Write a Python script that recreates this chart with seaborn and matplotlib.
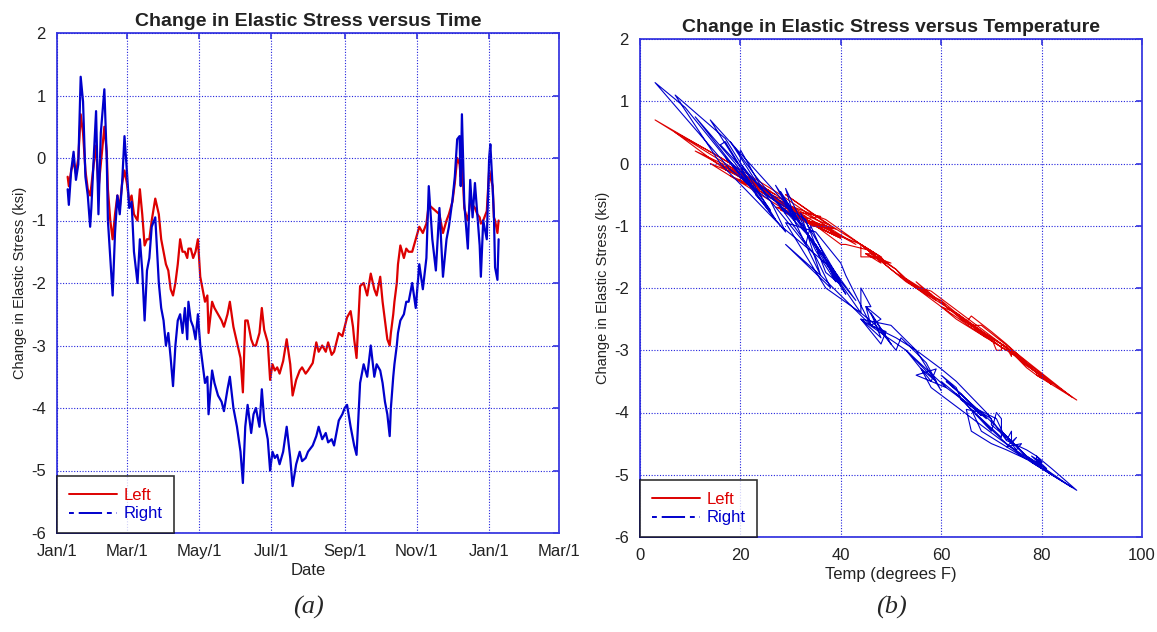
import numpy as np
import pandas as pd
import matplotlib
matplotlib.use("Agg")
import matplotlib.pyplot as plt
from matplotlib.lines import Line2D
import seaborn as sns

# ---- data ----
day_of_year = [9, 10, 12, 14, 16, 18, 20, 22, 24, 26, 28, 29, 31, 33, 35, 37, 40, 42, 43, 45,
               47, 49, 51, 53, 55, 57, 59, 61, 63, 65, 68, 70, 72, 74, 76, 78, 80, 83, 86, 88,
               90, 92, 94, 96, 98, 100, 102, 104, 106, 108, 110, 111, 113, 115, 117, 119, 121, 123, 125, 127,
               128, 131, 133, 136, 139, 141, 144, 146, 149, 152, 155, 157, 159, 161, 164, 166, 168, 171, 173, 175,
               178, 180, 182, 184, 186, 188, 191, 194, 197, 199, 202, 205, 207, 210, 212, 216, 219, 221, 224, 227,
               229, 232, 234, 236, 238, 241, 243, 245, 248, 250, 251, 253, 256, 259, 262, 265, 268, 270, 273, 275,
               277, 279, 281, 282, 284, 285, 287, 288, 290, 293, 295, 297, 300, 303, 306, 309, 312, 314, 317, 320,
               323, 326, 329, 331, 334, 336, 338, 340, 341, 342, 344, 346, 347, 349, 351, 353, 355, 357, 358, 360,
               363, 365, 366, 368, 369, 370, 372, 373]

left_stress = [-0.30, -0.45, -0.20, -0.05, -0.25, 0.00, 0.70, 0.40, -0.20, -0.50, -0.60, -0.45, -0.10, 0.20, -0.50, -0.10, 0.50, 0.10, -0.50, -1.00,
               -1.30, -0.90, -0.60, -0.80, -0.40, -0.20, -0.40, -0.70, -0.60, -0.90, -1.00, -0.50, -0.90, -1.40, -1.30, -1.30, -1.00, -0.65, -0.90, -1.30,
               -1.50, -1.70, -1.80, -2.10, -2.20, -2.00, -1.70, -1.30, -1.50, -1.50, -1.60, -1.45, -1.45, -1.60, -1.50, -1.30, -1.90, -2.10, -2.30, -2.20,
               -2.80, -2.30, -2.40, -2.50, -2.60, -2.70, -2.50, -2.30, -2.70, -2.95, -3.20, -3.75, -2.60, -2.60, -2.90, -3.00, -3.00, -2.80, -2.40, -2.75,
               -2.95, -3.55, -3.30, -3.40, -3.35, -3.45, -3.25, -2.90, -3.30, -3.80, -3.55, -3.40, -3.35, -3.45, -3.40, -3.28, -2.95, -3.10, -3.00, -3.10,
               -2.95, -3.15, -3.10, -2.95, -2.80, -2.85, -2.70, -2.55, -2.45, -2.70, -2.90, -3.20, -2.05, -2.00, -2.20, -1.85, -2.10, -2.20, -1.90, -2.30,
               -2.60, -2.90, -3.00, -2.80, -2.50, -2.30, -2.00, -1.70, -1.40, -1.60, -1.45, -1.50, -1.50, -1.30, -1.10, -1.20, -1.05, -0.75, -0.80, -0.85,
               -0.90, -1.20, -1.00, -0.90, -0.70, -0.40, 0.00, -0.10, -0.30, 0.00, -0.80, -0.95, -1.00, -0.70, -0.75, -0.80, -0.90, -0.95, -1.05, -1.00,
               -0.85, -0.20, -0.30, -0.45, -0.95, -1.00, -1.20, -1.00]

right_stress = [-0.50, -0.75, -0.20, 0.10, -0.35, -0.10, 1.30, 0.90, -0.30, -0.60, -1.10, -0.80, 0.00, 0.75, -0.90, 0.40, 1.10, 0.00, -1.00, -1.60,
                -2.20, -1.20, -0.60, -0.90, -0.40, 0.35, -0.20, -0.80, -0.70, -1.50, -2.00, -1.30, -1.80, -2.60, -1.80, -1.60, -1.10, -0.95, -2.00, -2.40,
                -2.60, -3.00, -2.80, -3.20, -3.65, -3.00, -2.60, -2.50, -2.80, -2.40, -2.90, -2.30, -2.60, -2.70, -2.90, -2.50, -3.00, -3.30, -3.60, -3.50,
                -4.10, -3.40, -3.60, -3.80, -3.90, -4.05, -3.70, -3.50, -4.00, -4.30, -4.70, -5.20, -4.30, -3.95, -4.40, -4.10, -4.00, -4.30, -3.70, -4.20,
                -4.50, -5.00, -4.70, -4.80, -4.75, -4.90, -4.70, -4.30, -4.80, -5.25, -4.90, -4.70, -4.85, -4.80, -4.70, -4.60, -4.45, -4.30, -4.50, -4.40,
                -4.55, -4.50, -4.60, -4.40, -4.20, -4.10, -4.00, -3.95, -4.30, -4.50, -4.60, -4.75, -3.60, -3.30, -3.50, -3.00, -3.50, -3.30, -3.40, -3.60,
                -3.90, -4.10, -4.45, -4.00, -3.50, -3.30, -3.00, -2.80, -2.60, -2.50, -2.30, -2.30, -2.00, -2.40, -1.70, -2.10, -1.60, -0.45, -1.30, -1.80,
                -0.80, -1.90, -1.30, -1.10, -0.67, -0.30, 0.30, 0.35, -0.45, 0.70, -0.73, -1.20, -1.45, -0.35, -0.95, -0.40, -0.90, -1.40, -1.90, -1.00,
                -1.30, 0.00, 0.22, -0.50, -0.90, -1.75, -1.95, -1.30]

temperature_f = [23, 26, 21, 17, 22, 18, 3, 9, 21, 26, 29, 26, 19, 11, 27, 17, 7, 16, 28, 37,
                 43, 34, 27, 31, 24, 18, 23, 29, 28, 35, 38, 29, 36, 46, 41, 40, 35, 29, 37, 44,
                 47, 51, 52, 57, 60, 55, 50, 44, 48, 46, 50, 45, 46, 49, 48, 44, 53, 57, 61, 60,
                 69, 60, 63, 64, 66, 68, 64, 61, 68, 72, 77, 86, 68, 66, 72, 72, 71, 70, 63, 69,
                 73, 82, 78, 80, 79, 81, 77, 72, 78, 87, 82, 79, 79, 80, 79, 77, 73, 74, 74, 75,
                 73, 76, 75, 73, 70, 70, 68, 65, 66, 70, 73, 77, 58, 56, 59, 53, 58, 59, 55, 61,
                 66, 71, 73, 69, 63, 60, 55, 51, 46, 48, 45, 46, 44, 44, 38, 41, 37, 28, 33, 36,
                 32, 40, 35, 33, 29, 23, 16, 17, 23, 14, 30, 34, 36, 27, 31, 29, 32, 35, 39, 34,
                 33, 20, 20, 25, 33, 37, 40, 35]

date_ticks = ["2005-01-01", "2005-03-01", "2005-05-01", "2005-07-01", "2005-09-01",
              "2005-11-01", "2006-01-01", "2006-03-01"]
date_tick_labels = ["Jan/1", "Mar/1", "May/1", "Jul/1", "Sep/1", "Nov/1", "Jan/1", "Mar/1"]
stress_ticks = [2, 1, 0, -1, -2, -3, -4, -5, -6]
temp_ticks = [0, 20, 40, 60, 80, 100]
series_names = ["Left", "Right"]

# ---- build tables ----
base = pd.Timestamp("2005-01-01")
dates = [base + pd.Timedelta(days=d) for d in day_of_year]
df = pd.DataFrame({"date": dates, "temp": temperature_f,
                   "Left": left_stress, "Right": right_stress})
long = df.melt(id_vars=["date", "temp"], value_vars=series_names,
               var_name="gauge", value_name="stress")

sns.set_theme(style="white")
plt.rcParams["font.family"] = ["Liberation Sans", "DejaVu Sans"]
plt.rcParams["axes.unicode_minus"] = False

RED = "#dd0000"
BLUE = "#0000cc"
FRAME = "#3a3ae0"
GRID = "#2222dd"
TXT = "#222222"
palette = {"Left": RED, "Right": BLUE}

fig = plt.figure(figsize=(11.57, 6.32), dpi=100)
W, H = 1157, 632
ax1 = fig.add_axes([57 / W, 1 - 533 / H, 502 / W, 500 / H])
ax2 = fig.add_axes([640 / W, 1 - 537 / H, 502 / W, 498 / H])


def style(ax):
    for s in ax.spines.values():
        s.set_color(FRAME)
        s.set_linewidth(1.3)
    ax.grid(True, color=GRID, linestyle=(0, (1, 1.5)), linewidth=0.8)
    ax.set_axisbelow(False)
    ax.tick_params(direction="in", length=4, color=FRAME, labelsize=12,
                   labelcolor=TXT, top=True, right=True, pad=8)
    ax.set_ylim(-6, 2)
    ax.set_yticks(stress_ticks)
    ax.set_ylabel("Change in Elastic Stress (ksi)", fontsize=10.5, color=TXT, labelpad=3)


sns.lineplot(data=long, x="date", y="stress", hue="gauge", palette=palette,
             estimator=None, units="gauge", sort=False, linewidth=1.6, legend=False, ax=ax1)
ax1.set_xlim(pd.Timestamp(date_ticks[0]), pd.Timestamp(date_ticks[-1]))
ax1.set_xticks([pd.Timestamp(t) for t in date_ticks])
ax1.set_xticklabels(date_tick_labels)
ax1.set_xlabel("Date", fontsize=12, color=TXT, labelpad=3)
ax1.set_title("Change in Elastic Stress versus Time", fontsize=14, fontweight="bold",
              color=TXT, pad=5)
style(ax1)

sns.lineplot(data=long, x="temp", y="stress", hue="gauge", palette=palette,
             estimator=None, units="gauge", sort=False, linewidth=0.8, legend=False, ax=ax2)
ax2.set_xlim(0, 100)
ax2.set_xticks(temp_ticks)
ax2.set_xlabel("Temp (degrees F)", fontsize=12, color=TXT, labelpad=3)
ax2.set_title("Change in Elastic Stress versus Temperature", fontsize=14, fontweight="bold",
              color=TXT, pad=5)
style(ax2)

handles = [Line2D([], [], color=RED, lw=1.4, linestyle="-"),
           Line2D([], [], color=BLUE, lw=1.4, linestyle=(0, (2.5, 2.5, 12, 2.5)))]
for ax in (ax1, ax2):
    leg = ax.legend(handles, series_names, loc="lower left", borderaxespad=0,
                    frameon=True, fancybox=False, fontsize=12, handlelength=2.9,
                    labelcolor=[RED, BLUE], borderpad=0.7, labelspacing=0.2,
                    handletextpad=0.4)
    leg.get_frame().set_edgecolor("black")
    leg.get_frame().set_linewidth(1.2)

fig.text((57 + 251) / W, 1 - 607 / H, "(a)", fontsize=19, style="italic",
         family="Liberation Serif", ha="center", va="center")
fig.text((640 + 251) / W, 1 - 607 / H, "(b)", fontsize=19, style="italic",
         family="Liberation Serif", ha="center", va="center")

fig.savefig("out.png", dpi=100)
